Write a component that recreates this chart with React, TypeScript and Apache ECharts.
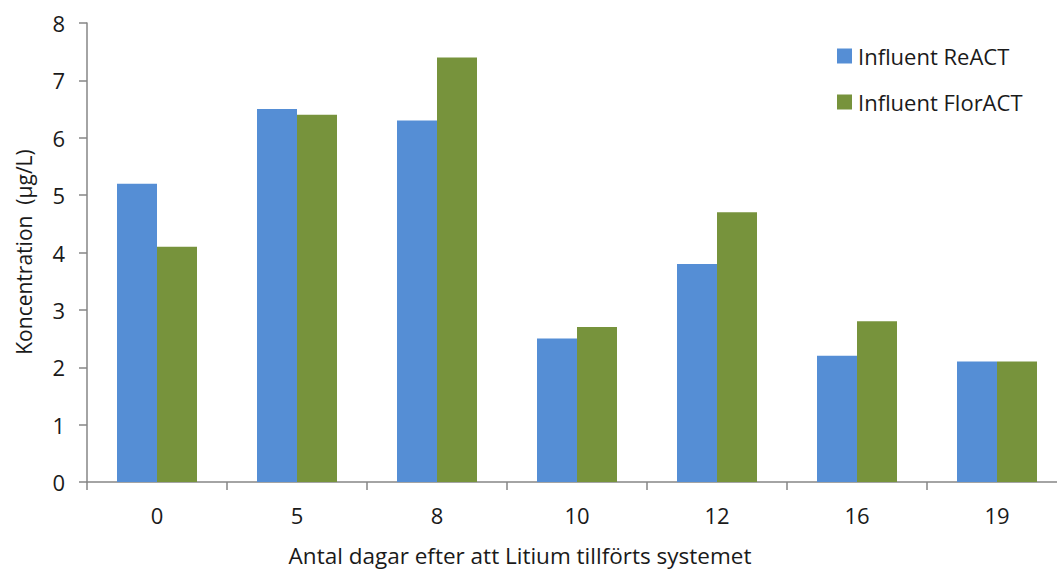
import React, { useEffect, useRef } from "react";
import * as echarts from "echarts";

const categories = ["0", "5", "8", "10", "12", "16", "19"];
const reactValues = [5.2, 6.5, 6.3, 2.5, 3.8, 2.2, 2.1];
const florValues = [4.1, 6.4, 7.4, 2.7, 4.7, 2.8, 2.1];
const seriesNames = ["Influent ReACT", "Influent FlorACT"];
const yAxisTitle = "Koncentration  (µg/L)";
const xAxisTitle = "Antal dagar efter att Litium tillförts systemet";

const FONT = "'Open Sans', 'Noto Sans', sans-serif";
const TEXT = "#1a1a1a";

export default function App() {
  const ref = useRef<HTMLDivElement>(null);
  useEffect(() => {
    if (!ref.current) return;
    const chart = echarts.init(ref.current, undefined, { renderer: "svg" });
    chart.setOption({
      animation: false,
      backgroundColor: "#ffffff",
      grid: { left: 87, top: 23, bottom: 87, width: 980 },
      legend: {
        orient: "vertical",
        left: 837,
        top: 45,
        padding: 0,
        icon: "rect",
        itemWidth: 15,
        itemHeight: 15,
        itemGap: 24,
        textStyle: { fontFamily: FONT, fontSize: 22, lineHeight: 22, color: TEXT, padding: [0, 0, 0, 1] },
        data: seriesNames,
      },
      xAxis: {
        type: "category",
        data: categories,
        axisLine: { lineStyle: { color: "#868686", width: 1.5 } },
        axisTick: { show: true, length: 8, lineStyle: { color: "#868686", width: 1.5 } },
        axisLabel: { fontFamily: FONT, fontSize: 22, color: TEXT, margin: 22 },
      },
      yAxis: {
        type: "value",
        min: 0,
        max: 8,
        interval: 1,
        splitLine: { show: false },
        axisLine: { show: true, lineStyle: { color: "#868686", width: 1.5 } },
        axisTick: { show: true, length: 8, lineStyle: { color: "#868686", width: 1.5 } },
        axisLabel: { fontFamily: FONT, fontSize: 22, color: TEXT, margin: 22 },
      },
      graphic: [
        {
          type: "text",
          x: 24,
          y: 252,
          rotation: Math.PI / 2,
          style: {
            text: yAxisTitle,
            fontFamily: FONT,
            fontSize: 21,
            fill: TEXT,
            align: "center",
            verticalAlign: "middle",
          },
        },
        {
          type: "text",
          x: 520,
          y: 555,
          style: {
            text: xAxisTitle,
            fontFamily: FONT,
            fontSize: 22.5,
            fill: TEXT,
            align: "center",
            verticalAlign: "middle",
          },
        },
      ],
      series: [
        {
          name: seriesNames[0],
          type: "bar",
          data: reactValues,
          barWidth: 40,
          barGap: "0%",
          itemStyle: { color: "#558ed5" },
        },
        {
          name: seriesNames[1],
          type: "bar",
          data: florValues,
          barWidth: 40,
          barGap: "0%",
          itemStyle: { color: "#77933c" },
        },
      ],
    });
    return () => chart.dispose();
  }, []);
  return (
    <div style={{ position: "fixed", left: 0, top: 0, width: 1057, height: 569, overflow: "hidden" }}>
      <div ref={ref} style={{ width: 1070, height: 569 }} />
    </div>
  );
}
